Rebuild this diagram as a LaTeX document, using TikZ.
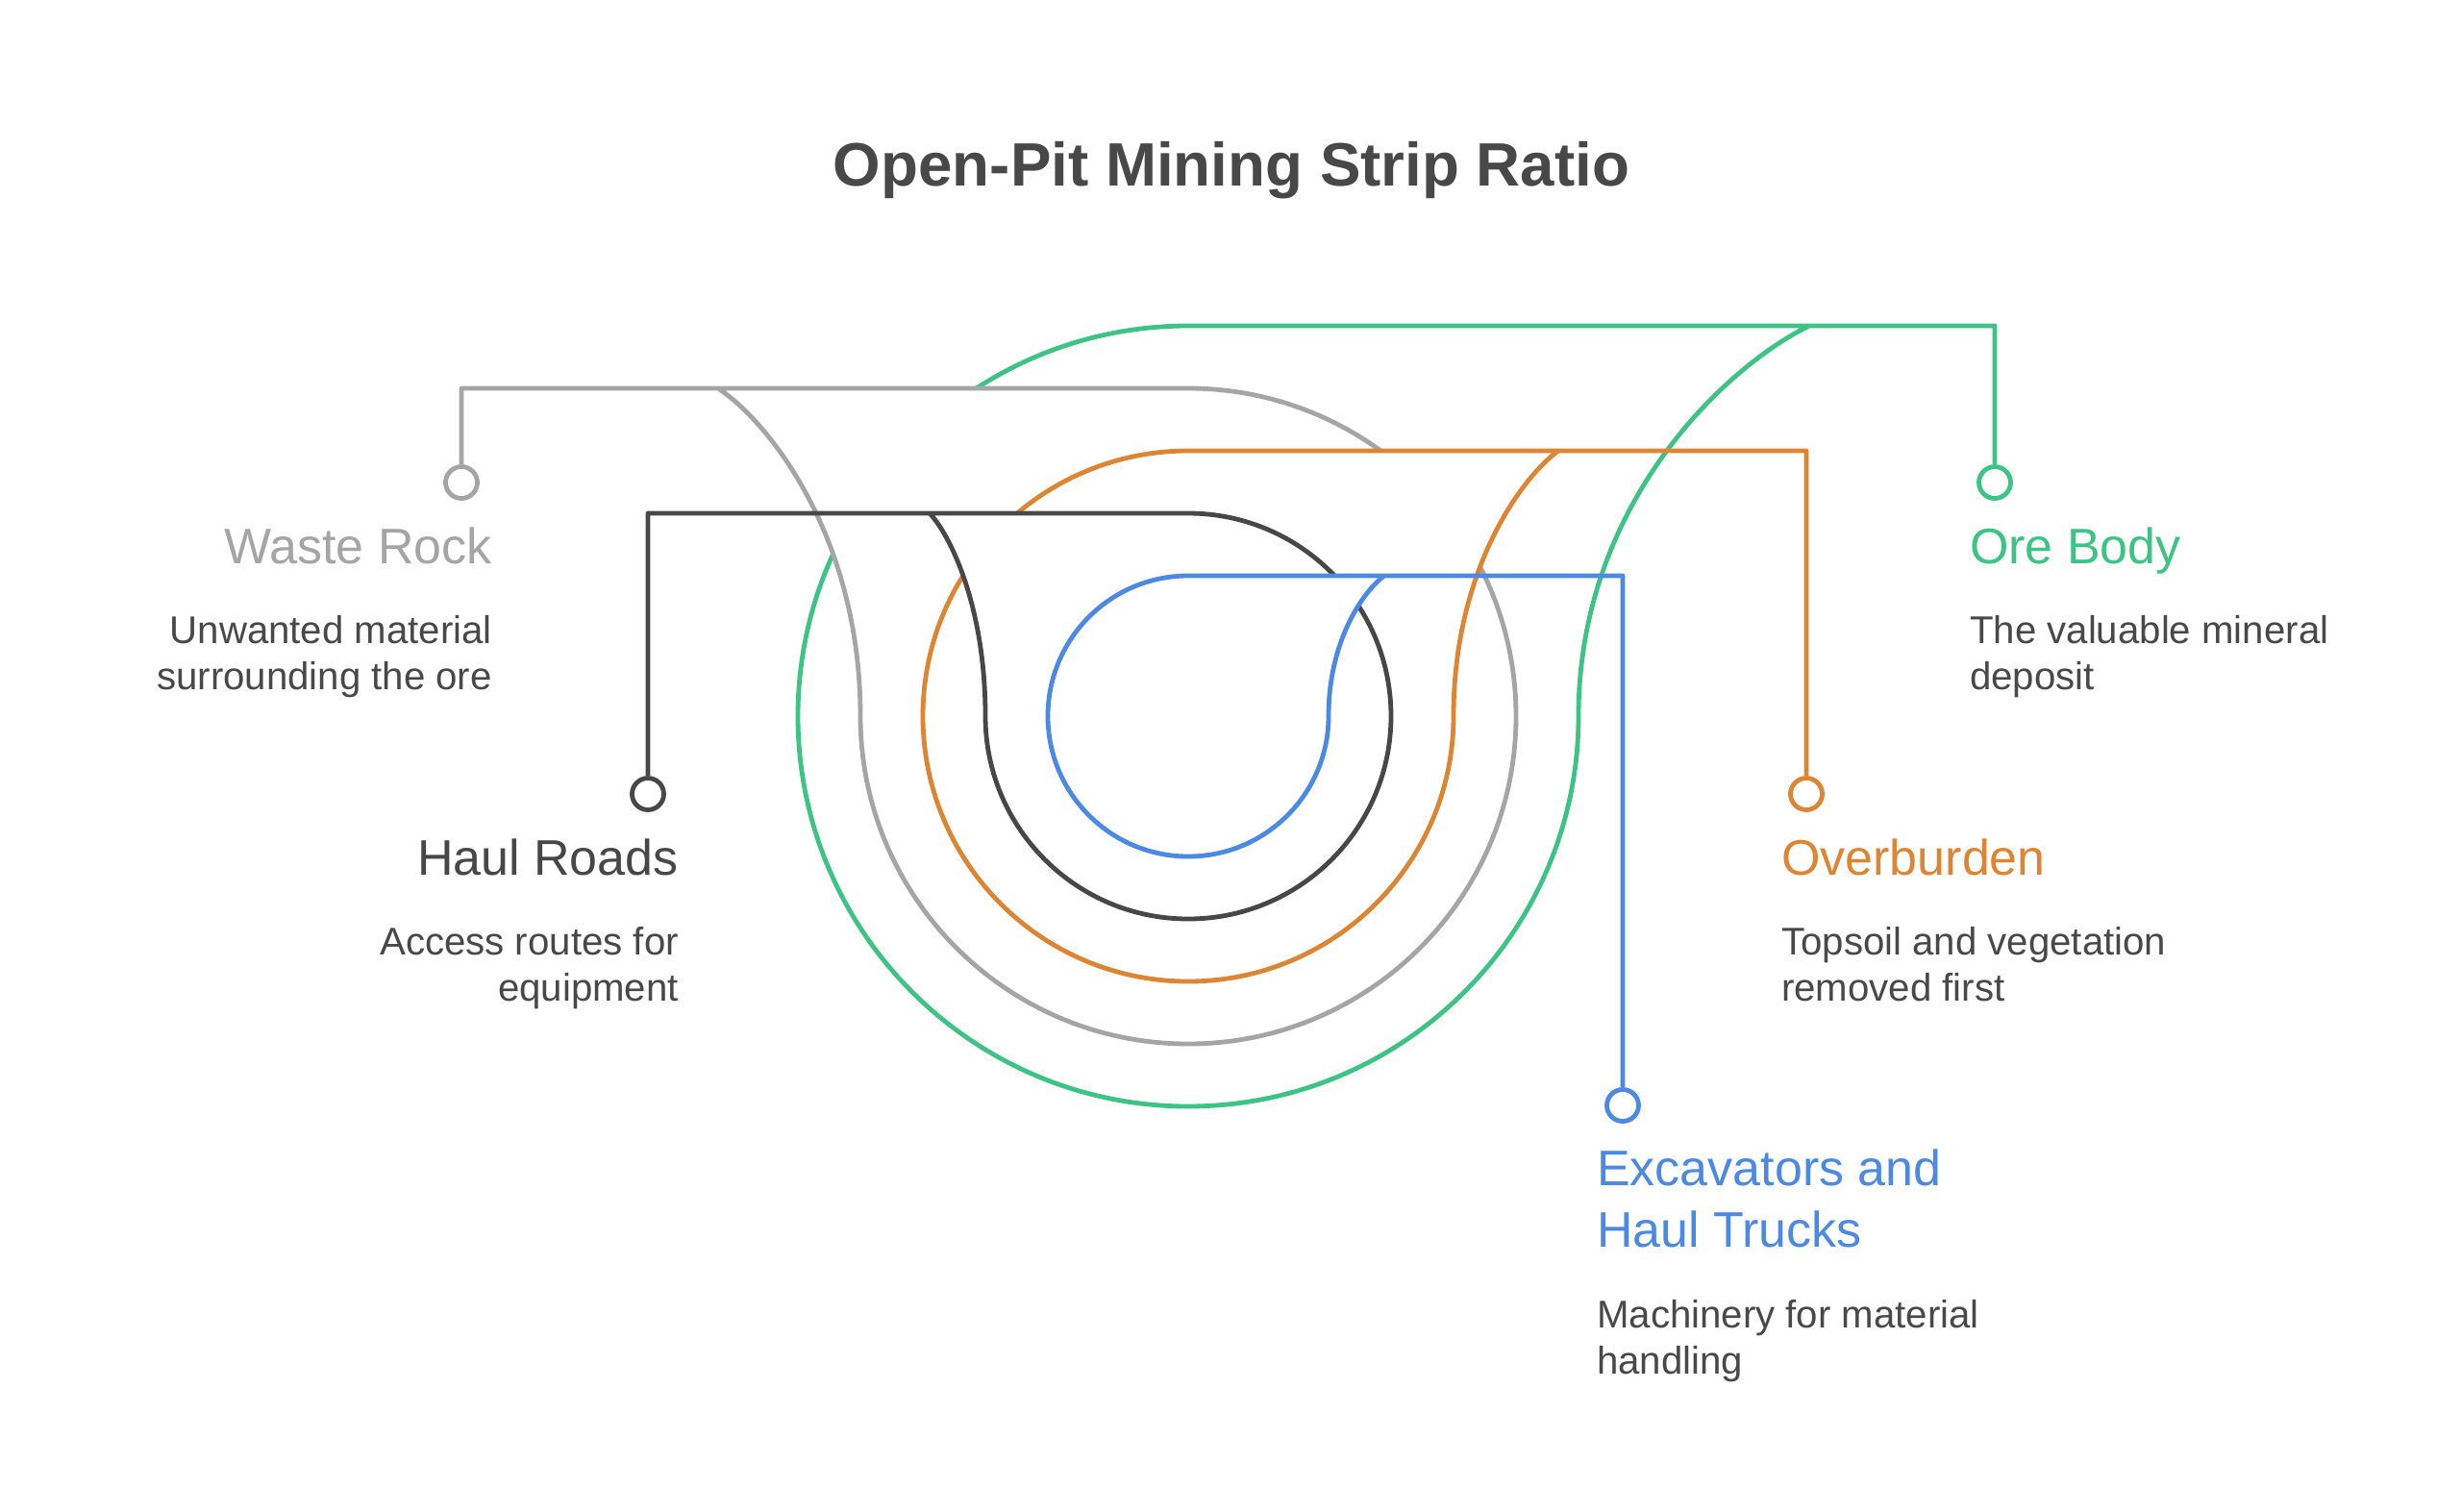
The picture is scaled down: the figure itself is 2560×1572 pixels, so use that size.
\documentclass[tikz,border=0pt]{standalone}
\usepackage{fontspec}
\setmainfont{Liberation Sans}
\usetikzlibrary{positioning,calc}
\definecolor{oreGreen}{HTML}{3DC484}
\definecolor{wasteGray}{HTML}{A5A5A5}
\definecolor{haulDark}{HTML}{474747}
\definecolor{burdenOrange}{HTML}{DD8533}
\definecolor{truckBlue}{HTML}{4C89E5}
\definecolor{txtDark}{HTML}{484848}
\begin{document}
\begin{tikzpicture}[x=1pt,y=1pt,
    pitline/.style={line width=4.8pt, line join=round},
    dot/.style={circle, draw, line width=4.8pt, fill=white, inner sep=0pt, minimum size=33pt},
    head/.style={font=\fontsize{52}{64}\selectfont, inner sep=0pt},
    desc/.style={font=\fontsize{40.2}{48}\selectfont, text=txtDark, inner sep=0pt}]
  \useasboundingbox (0,0) rectangle (2560,-1572);
  \coordinate (c) at (1236,-745);

  % end dots
  \node[dot, draw=wasteGray]    (wrd) at (480,-502) {};
  \node[dot, draw=haulDark]     (hrd) at (674,-826) {};
  \node[dot, draw=oreGreen]     (obd) at (2075,-502) {};
  \node[dot, draw=burdenOrange] (ovd) at (1879,-826) {};
  \node[dot, draw=truckBlue]    (exd) at (1688,-1150) {};

  % loops, outer first; each loop hides what lies under it
  \fill[white] (1882,-339) -- (1236,-339) arc[start angle=90, end angle=360, radius=406]
    .. controls (1642,-521.7) and (1798,-379.6) .. (1882,-339) -- cycle;
  \draw[pitline, oreGreen] (obd.north) -- (2075,-339) -- (1236,-339)
    arc[start angle=90, end angle=360, radius=406]
    .. controls (1642,-521.7) and (1798,-379.6) .. (1882,-339);

  \fill[white] (747,-404) -- (1236,-404) arc[start angle=90, end angle=-180, radius=341]
    .. controls (895,-557.4) and (798.8,-438.1) .. (747,-404) -- cycle;
  \draw[pitline, wasteGray] (wrd.north) -- (480,-404) -- (1236,-404)
    arc[start angle=90, end angle=-180, radius=341]
    .. controls (895,-557.4) and (798.8,-438.1) .. (747,-404);

  \fill[white] (1621,-469) -- (1236,-469) arc[start angle=90, end angle=360, radius=276]
    .. controls (1512,-593.2) and (1582.8,-496.6) .. (1621,-469) -- cycle;
  \draw[pitline, burdenOrange] (ovd.north) -- (1879,-469) -- (1236,-469)
    arc[start angle=90, end angle=360, radius=276]
    .. controls (1512,-593.2) and (1582.8,-496.6) .. (1621,-469);

  \fill[white] (967,-534) -- (1236,-534) arc[start angle=90, end angle=-180, radius=211]
    .. controls (1025,-629) and (987.3,-555.1) .. (967,-534) -- cycle;
  \draw[pitline, haulDark] (hrd.north) -- (674,-534) -- (1236,-534)
    arc[start angle=90, end angle=-180, radius=211]
    .. controls (1025,-629) and (987.3,-555.1) .. (967,-534);

  \fill[white] (1440,-599) -- (1236,-599) arc[start angle=90, end angle=360, radius=146]
    .. controls (1382,-664.7) and (1419.7,-613.6) .. (1440,-599) -- cycle;
  \draw[pitline, truckBlue] (exd.north) -- (1688,-599) -- (1236,-599)
    arc[start angle=90, end angle=360, radius=146]
    .. controls (1382,-664.7) and (1419.7,-613.6) .. (1440,-599);

  % texts
  \node[font=\fontsize{63.7}{76}\selectfont\bfseries, text=txtDark, inner sep=0pt, anchor=base]
    (ttl) at (1281,-193) {Open-Pit Mining Strip Ratio};

  \node[head, text=wasteGray, anchor=base east] (wr) at (512,-586) {Waste Rock};
  \node[desc, align=right, anchor=base east] (wrt) at ([yshift=-131pt]wr.base east)
    {Unwanted material\\surrounding the ore};

  \node[head, text=haulDark, anchor=base east] (hr) at (706,-910) {Haul Roads};
  \node[desc, align=right, anchor=base east] (hrt) at ([yshift=-131pt]hr.base east)
    {Access routes for\\equipment};

  \node[head, text=oreGreen, anchor=base west] (ob) at (2049,-586) {Ore Body};
  \node[desc, align=left, anchor=base west] (obt) at ([yshift=-131pt]ob.base west)
    {The valuable mineral\\deposit};

  \node[head, text=burdenOrange, anchor=base west] (ov) at (1853,-910) {Overburden};
  \node[desc, align=left, anchor=base west] (ovt) at ([yshift=-131pt]ov.base west)
    {Topsoil and vegetation\\removed first};

  \node[head, text=truckBlue, align=left, anchor=base west] (ex) at (1661,-1297)
    {Excavators and\\Haul Trucks};
  \node[desc, align=left, anchor=base west] (ext) at ([yshift=-132pt]ex.base west)
    {Machinery for material\\handling};
\end{tikzpicture}
\end{document}
